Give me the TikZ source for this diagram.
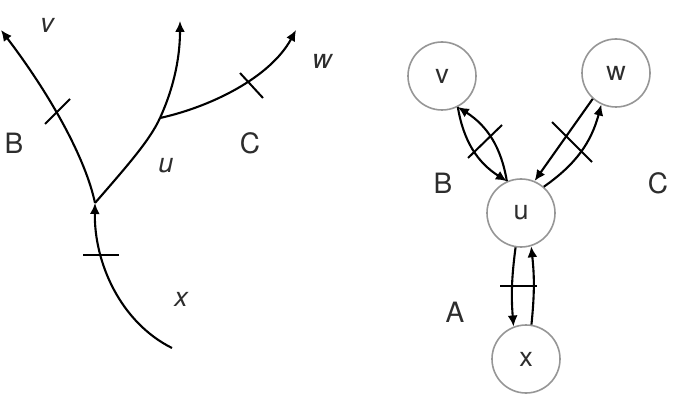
\documentclass[tikz,border=0pt]{standalone}
\usepackage{fontspec}
\setmainfont{TeX Gyre Heros}
\usetikzlibrary{arrows.meta}
\definecolor{txt}{RGB}{45,45,45}
\definecolor{ring}{RGB}{150,150,150}
\begin{document}
\begin{tikzpicture}[x=1pt,y=-1pt,
  line/.style={line width=2.1pt,black},
  arr/.style={line,-{Latex[length=11pt,width=10pt]}},
  tick/.style={line width=2pt,black},
  lab/.style={text=txt,font=\fontsize{28}{28}\selectfont,inner sep=0pt},
  ilab/.style={lab,font=\fontsize{27}{27}\selectfont\itshape},
  vert/.style={circle,draw=ring,line width=1.6pt,minimum size=68pt,inner sep=0pt,text=txt,font=\fontsize{27}{27}\selectfont}]
\useasboundingbox (0,0) rectangle (676,411);
% left tree
\coordinate (x0) at (172,348);
\coordinate (J) at (95,203);
\coordinate (K) at (160,118);
\coordinate (vt) at (1,30);
\coordinate (mt) at (180,21);
\coordinate (wt) at (296,30);
\draw[arr] (x0) .. controls (120,322) and (94,262) .. (J);
\draw[arr] (J) .. controls (86,160) and (52,97) .. (vt);
\draw[line] (J) .. controls (128,165) and (150,140) .. (K);
\draw[arr] (K) .. controls (175,85) and (180,55) .. (mt);
\draw[arr] (K) .. controls (210,107) and (270,78) .. (wt);
\draw[tick] (83,255) -- (119,255);
\draw[tick] (45,124) -- (70,99);
\draw[tick] (240,73) -- (263,98);
\node[ilab] (lv) at (47,25) {v};
\node[ilab] (lw) at (322,61) {w};
\node[ilab] (lu) at (166,166) {u};
\node[ilab] (lx) at (181,299) {x};
\node[lab] (lB) at (14,143) {B};
\node[lab] (lC) at (250,143) {C};
% right graph
\node[vert] (v) at (442,76) {v};
\node[vert] (w) at (616,73) {w};
\node[vert] (u) at (521,213) {u};
\node[vert] (x) at (526,359) {x};
\draw[arr] (v.-63) to[bend right=24] (u.114);
\draw[arr] (u.114) to[bend right=24] (v.-63);
\draw[arr] (w.228) -- (u.67);
\draw[arr] (u.49) to[bend right=20] (w.245);
\draw[arr] (u.261) to[bend right=6] (x.111);
\draw[arr] (x.81) to[bend right=6] (u.287);
\draw[tick] (468,158) -- (502,125);
\draw[tick] (552,122) -- (592,162);
\draw[tick] (500,286) -- (537,286);
\node[lab] (rB) at (443,183) {B};
\node[lab] (rC) at (658,183) {C};
\node[lab] (rA) at (455,312) {A};
\end{tikzpicture}
\end{document}
